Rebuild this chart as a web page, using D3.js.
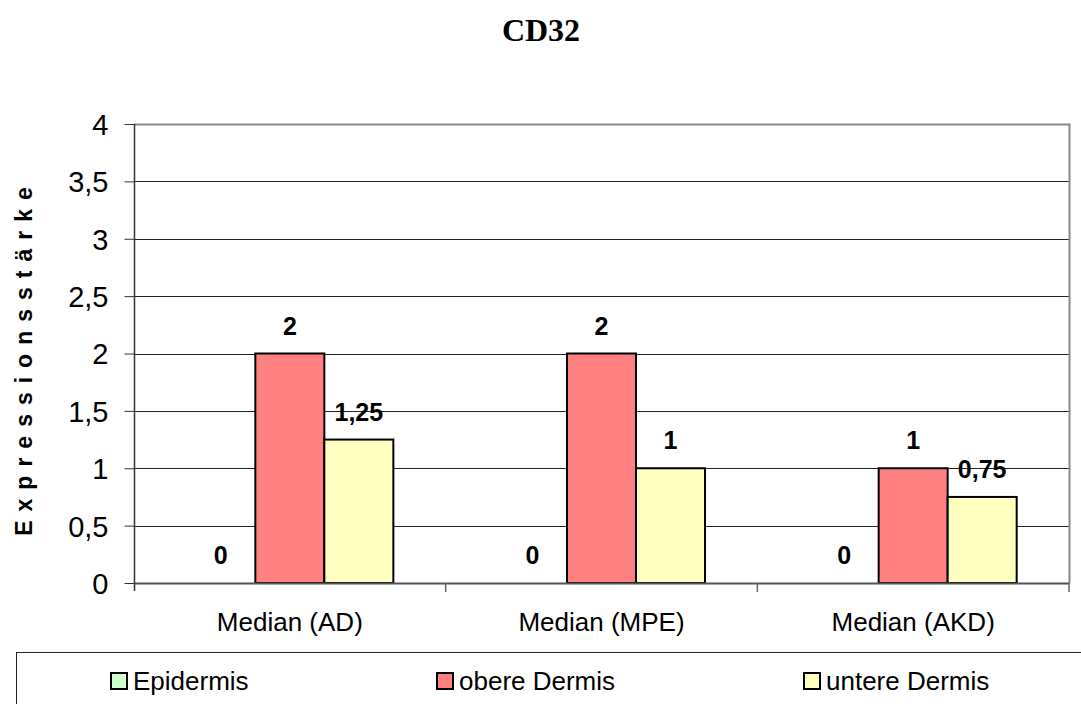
<!DOCTYPE html>
<html>
<head>
<meta charset="utf-8">
<script src="https://cdn.jsdelivr.net/npm/d3@7"></script>
<style>
  html, body { margin: 0; padding: 0; background: #fff; }
  svg { display: block; }
</style>
</head>
<body>
<svg id="chart" width="1081" height="704"></svg>
<script>
// Chart data
const categories = ["Median (AD)", "Median (MPE)", "Median (AKD)"];
const seriesNames = ["Epidermis", "obere Dermis", "untere Dermis"];
const epidermis = [0, 0, 0];
const obereDermis = [2, 2, 1];
const untereDermis = [1.25, 1, 0.75];
const valueLabels = [["0", "0", "0"], ["2", "2", "1"], ["1,25", "1", "0,75"]];
const yTicks = [0, 0.5, 1, 1.5, 2, 2.5, 3, 3.5, 4];
const seriesColors = ["#ccffcc", "#ff8080", "#ffffc0"];

const seriesValues = [epidermis, obereDermis, untereDermis];

const svg = d3.select("#chart");
const plot = { left: 134, right: 1069, top: 124, bottom: 583 };
const sans = "'Liberation Sans', Arial, sans-serif";

const x = d3.scaleBand().domain(categories).range([plot.left, plot.right]).padding(0);
const xInner = d3.scaleBand().domain(seriesNames)
  .range([0, x.bandwidth()]).paddingInner(0).paddingOuter(0.758);
const y = d3.scaleLinear().domain([0, 4]).range([plot.bottom, plot.top]);

// Title
svg.append("text")
  .attr("x", 541).attr("y", 41)
  .attr("text-anchor", "middle")
  .style("font-family", "'Liberation Serif', 'Times New Roman', serif")
  .style("font-weight", "bold")
  .style("font-size", "32px")
  .text("CD32");

// Gridlines
svg.append("g").selectAll("line")
  .data(yTicks.filter(d => d > 0 && d < 4))
  .join("line")
  .attr("x1", plot.left).attr("x2", plot.right)
  .attr("y1", d => Math.round(y(d)) + 0.5).attr("y2", d => Math.round(y(d)) + 0.5)
  .attr("stroke", "#222").attr("stroke-width", 1);

// Plot frame (top and right in gray)
svg.append("path")
  .attr("d", `M${plot.left},${plot.top + 0.5} H${plot.right + 0.5} V${plot.bottom + 0.5}`)
  .attr("fill", "none").attr("stroke", "#888").attr("stroke-width", 2);

// Bars
const groups = svg.append("g").selectAll("g")
  .data(seriesValues)
  .join("g")
  .attr("fill", (d, i) => seriesColors[i]);

groups.each(function (vals, si) {
  d3.select(this).selectAll("rect")
    .data(vals.map((v, ci) => ({ v, ci })).filter(d => d.v > 0))
    .join("rect")
    .attr("x", d => x(categories[d.ci]) + xInner(seriesNames[si]))
    .attr("y", d => y(d.v))
    .attr("width", xInner.bandwidth())
    .attr("height", d => y(0) - y(d.v))
    .attr("stroke", "#000").attr("stroke-width", 2);
});

// Value labels
groups.each(function (vals, si) {
  d3.select(this).selectAll("text")
    .data(vals.map((v, ci) => ({ v, ci })))
    .join("text")
    .attr("x", d => x(categories[d.ci]) + xInner(seriesNames[si]) + xInner.bandwidth() / 2)
    .attr("y", d => y(d.v) - 19)
    .attr("text-anchor", "middle")
    .attr("fill", "#000")
    .style("font-family", sans)
    .style("font-weight", "bold")
    .style("font-size", "25px")
    .text(d => valueLabels[si][d.ci]);
});

// X axis baseline
svg.append("line")
  .attr("x1", plot.left).attr("x2", plot.right)
  .attr("y1", plot.bottom + 0.5).attr("y2", plot.bottom + 0.5)
  .attr("stroke", "#555").attr("stroke-width", 2);

// Category separator ticks
svg.append("g").selectAll("line")
  .data(categories)
  .join("line")
  .attr("x1", d => x(d) + x.bandwidth()).attr("x2", d => x(d) + x.bandwidth())
  .attr("y1", plot.bottom).attr("y2", plot.bottom + 9)
  .attr("stroke", "#666").attr("stroke-width", 1.5);

// Category labels
svg.append("g").selectAll("text")
  .data(categories)
  .join("text")
  .attr("x", d => x(d) + x.bandwidth() / 2)
  .attr("y", 631)
  .attr("text-anchor", "middle")
  .style("font-family", sans)
  .style("font-size", "26px")
  .text(d => d);

// Y axis
const yAxis = d3.axisLeft(y).tickValues(yTicks).tickSize(10).tickPadding(16)
  .tickFormat(d => String(d).replace(".", ","));
const yg = svg.append("g").attr("transform", `translate(${plot.left + 0.5},0)`).call(yAxis);
yg.select(".domain").attr("stroke", "#333").attr("stroke-width", 1.5)
  .attr("d", `M0,${plot.bottom + 8}V${plot.top}`);
yg.selectAll(".tick line").attr("stroke", "#333");
yg.selectAll(".tick text")
  .attr("fill", "#000")
  .attr("dy", "0.36em")
  .style("font-family", sans)
  .style("font-size", "29px");

// Y axis title
svg.append("text")
  .attr("transform", "translate(32,357) rotate(-90)")
  .attr("text-anchor", "middle")
  .style("font-family", sans)
  .style("font-weight", "bold")
  .style("font-size", "23px")
  .style("letter-spacing", "9px")
  .text("Expressionsstärke");

// Legend
svg.append("rect")
  .attr("x", 16.5).attr("y", 652.5).attr("width", 1100).attr("height", 80)
  .attr("fill", "#fff").attr("stroke", "#222").attr("stroke-width", 1);

const legendX = [110, 436, 803];
const legend = svg.append("g").selectAll("g")
  .data(seriesNames)
  .join("g")
  .attr("transform", (d, i) => `translate(${legendX[i]},672)`);
legend.append("rect")
  .attr("x", 1).attr("y", 1).attr("width", 16).attr("height", 16)
  .attr("fill", (d, i) => seriesColors[i])
  .attr("stroke", "#000").attr("stroke-width", 2);
legend.append("text")
  .attr("x", 23).attr("y", 18)
  .style("font-family", sans)
  .style("font-size", "26px")
  .text(d => d);
</script>
</body>
</html>
